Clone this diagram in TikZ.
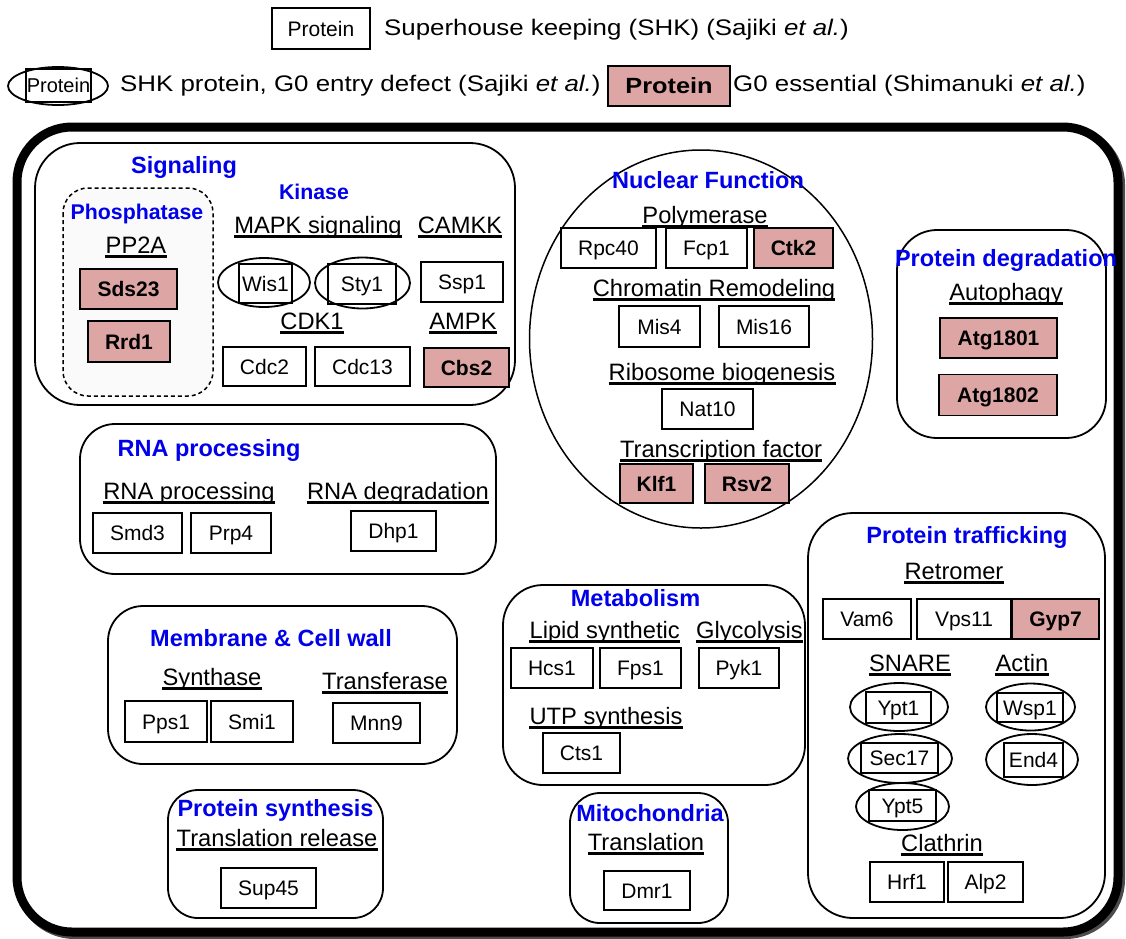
\documentclass[tikz,border=0pt]{standalone}
\usepackage{fontspec}
\setmainfont{Liberation Sans}
\newfontfamily\legfont[FakeStretch=1.15]{Liberation Sans}
\usetikzlibrary{shapes.geometric}
\definecolor{gzero}{RGB}{222,165,165}
\definecolor{ttlblue}{RGB}{0,0,235}
\begin{document}
\begin{tikzpicture}[x=1pt,y=-1pt,
  pbox/.style={draw, line width=1.8pt, inner sep=0pt, font=\fontsize{21}{25}\selectfont, text height=15pt, text depth=0pt},
  gbox/.style={pbox, fill=gzero, font=\bfseries\fontsize{21}{25}\selectfont},
  oval/.style={draw, ellipse, line width=1.8pt, inner sep=0pt},
  ttl/.style={inner sep=0pt, text=ttlblue, font=\bfseries\fontsize{23.5}{28}\selectfont, text height=17pt, text depth=0pt},
  ttls/.style={ttl, font=\bfseries\fontsize{21.3}{25}\selectfont, text height=15.3pt},
  sub/.style={inner sep=0pt, font=\fontsize{23.7}{28}\selectfont, text height=17pt, text depth=0pt,
     append after command={([yshift=-3pt]\tikzlastnode.south west) edge[line width=2.6pt] ([yshift=-3pt]\tikzlastnode.south east)}},
  grp/.style={draw, line width=1.8pt},
  legt/.style={inner sep=0pt, anchor=west, font=\legfont\fontsize{22.5}{27}\selectfont, text height=16pt, text depth=0pt},
]
\useasboundingbox (0,0) rectangle (1126,938);

% ---------- legend ----------
\node[pbox, minimum width=98, minimum height=41] (lg1) at (321,28.5) {Protein};
\node[legt] (lt1) at (384,27.3) {Superhouse keeping (SHK) (Sajiki \textit{et al.})};
\node[oval, minimum width=100, minimum height=38] (lg2o) at (58,86) {};
\node[pbox, minimum width=65, minimum height=33, font=\fontsize{20}{24}\selectfont, text height=14.3pt] (lg2) at (58.5,85.5) {Protein};
\node[legt] (lt2) at (120,83) {SHK protein, G0 entry defect (Sajiki \textit{et al.})};
\node[gbox, minimum width=122, minimum height=40, font=\legfont\bfseries\fontsize{22}{26}\selectfont] (lg3) at (669,86) {Protein};
\node[legt] (lt3) at (733,83) {G0 essential (Shimanuki \textit{et al.})};

% ---------- outer frame ----------
\draw[line width=9pt, black!70, rounded corners=55] (19.5,129.5) rectangle (1120.5,934.5);
\draw[line width=9pt, fill=white, rounded corners=55] (17,127) rectangle (1118,932);

% ---------- group frames ----------
\draw[grp, rounded corners=45] (35,143) rectangle (515,405);
\draw[line width=1.5pt, dash pattern=on 4pt off 3pt, fill=black!2, rounded corners=25] (63,188) rectangle (213,396);
\draw[line width=1.5pt] (701,339) ellipse [x radius=171.5, y radius=189];
\draw[grp, rounded corners=40] (897,230) rectangle (1106,438);
\draw[grp, rounded corners=35] (80,424) rectangle (496,574);
\draw[grp, rounded corners=35] (108,606) rectangle (457,764);
\draw[grp, rounded corners=40] (503,585) rectangle (805,785);
\draw[grp, rounded corners=30] (168,790) rectangle (383,918);
\draw[grp, rounded corners=30] (570,793) rectangle (728,923);
\draw[grp, rounded corners=45] (808,513) rectangle (1105,918);

% ---------- Signaling ----------
\node[ttl] (tsig) at (184,165) {Signaling};
\node[ttls] (tphos) at (137,212) {Phosphatase};
\node[sub] (spp2a) at (136,245) {PP2A};
\node[gbox, minimum width=97, minimum height=40] (sds23) at (128.5,289) {Sds23};
\node[gbox, minimum width=82, minimum height=41] (rrd1) at (129,341.5) {Rrd1};
\node[ttls] (tkin) at (314,192) {Kinase};
\node[sub] (smapk) at (318,225) {MAPK signaling};
\node[sub] (scamkk) at (460,225) {CAMKK};
\node[oval, minimum width=92, minimum height=49] (wis1o) at (264,282.5) {};
\node[pbox, minimum width=53, minimum height=39] (wis1) at (265.5,283.5) {Wis1};
\node[oval, minimum width=95, minimum height=51] (sty1o) at (362.5,283) {};
\node[pbox, minimum width=68, minimum height=40] (sty1) at (362,284) {Sty1};
\node[pbox, minimum width=82, minimum height=40] (ssp1) at (462,282) {Ssp1};
\node[sub] (scdk1) at (312,321) {CDK1};
\node[sub] (sampk) at (463,321) {AMPK};
\node[pbox, minimum width=83, minimum height=39] (cdc2) at (264.5,366.5) {Cdc2};
\node[pbox, minimum width=95, minimum height=39] (cdc13) at (362.5,366.5) {Cdc13};
\node[gbox, minimum width=85, minimum height=39] (cbs2) at (466.5,367.5) {Cbs2};

% ---------- Nuclear Function ----------
\node[ttl] (tnuc) at (708,180) {Nuclear Function};
\node[sub] (spol) at (705,215) {Polymerase};
\node[pbox, minimum width=95, minimum height=40] (rpc40) at (608.5,248) {Rpc40};
\node[pbox, minimum width=81, minimum height=40] (fcp1) at (706.5,248) {Fcp1};
\node[gbox, minimum width=79, minimum height=40] (ctk2) at (793.5,248) {Ctk2};
\node[sub] (schr) at (714,288) {Chromatin Remodeling};
\node[pbox, minimum width=81, minimum height=41] (mis4) at (659.5,326.5) {Mis4};
\node[pbox, minimum width=90, minimum height=41] (mis16) at (764,326.5) {Mis16};
\node[sub] (srib) at (722,372) {Ribosome biogenesis};
\node[pbox, minimum width=91, minimum height=40] (nat10) at (707.5,409) {Nat10};
\node[sub] (stf) at (721,449) {Transcription factor};
\node[gbox, minimum width=73, minimum height=39] (klf1) at (656.5,483.5) {Klf1};
\node[gbox, minimum width=84, minimum height=39] (rsv2) at (747,483.5) {Rsv2};

% ---------- Protein degradation ----------
\node[ttl] (tpd) at (1006,258) {Protein degradation};
\node[sub] (sauto) at (1006,292) {Autophagy};
\node[gbox, minimum width=117, minimum height=40] (atga) at (998.5,338) {Atg1801};
\node[gbox, minimum width=118, minimum height=41] (atgb) at (998,395) {Atg1802};

% ---------- RNA processing ----------
\node[ttl] (trna) at (209,448) {RNA processing};
\node[sub] (srnap) at (189,491) {RNA processing};
\node[sub] (srnad) at (398,491) {RNA degradation};
\node[pbox, minimum width=89, minimum height=40] (smd3) at (137.5,533) {Smd3};
\node[pbox, minimum width=80, minimum height=40] (prp4) at (231,533) {Prp4};
\node[pbox, minimum width=85, minimum height=40] (dhp1) at (393.5,531) {Dhp1};

% ---------- Membrane & Cell wall ----------
\node[ttl] (tmem) at (271,638) {Membrane \& Cell wall};
\node[sub] (ssyn) at (212,677) {Synthase};
\node[sub] (stra) at (385,681) {Transferase};
\node[pbox, minimum width=82, minimum height=41] (pps1) at (166,721.5) {Pps1};
\node[pbox, minimum width=82, minimum height=41] (smi1) at (252,721.5) {Smi1};
\node[pbox, minimum width=87, minimum height=40] (mnn9) at (376.5,723) {Mnn9};

% ---------- Metabolism ----------
\node[ttl] (tmet) at (635.5,598) {Metabolism};
\node[sub] (slip) at (604.7,630) {Lipid synthetic};
\node[sub] (sgly) at (749.5,630) {Glycolysis};
\node[pbox, minimum width=82, minimum height=40] (hcs1) at (552,668) {Hcs1};
\node[pbox, minimum width=81, minimum height=40] (fps1) at (640.5,668) {Fps1};
\node[pbox, minimum width=80, minimum height=40] (pyk1) at (739,668) {Pyk1};
\node[sub] (sutp) at (606,716) {UTP synthesis};
\node[pbox, minimum width=77, minimum height=40] (cts1) at (581.5,753) {Cts1};

% ---------- Protein synthesis ----------
\node[ttl] (tps) at (275.5,808) {Protein synthesis};
\node[sub] (strr) at (277,838) {Translation release};
\node[pbox, minimum width=95, minimum height=40] (sup45) at (268.5,888) {Sup45};

% ---------- Mitochondria ----------
\node[ttl] (tmito) at (650,813) {Mitochondria};
\node[sub] (strl) at (646,842) {Translation};
\node[pbox, minimum width=86, minimum height=39] (dmr1) at (647,890.5) {Dmr1};

% ---------- Protein trafficking ----------
\node[ttl] (tpt) at (967,535) {Protein trafficking};
\node[sub] (sret) at (954,571) {Retromer};
\node[pbox, minimum width=88, minimum height=40] (vam6) at (867,619) {Vam6};
\node[pbox, minimum width=94, minimum height=40] (vps11) at (964,619) {Vps11};
\node[gbox, minimum width=87, minimum height=40] (gyp7) at (1055.5,619) {Gyp7};
\node[sub] (ssnare) at (910,663) {SNARE};
\node[sub] (sactin) at (1022,663) {Actin};
\node[oval, minimum width=98, minimum height=48] (ypt1o) at (899,707) {};
\node[pbox, minimum width=65, minimum height=31] (ypt1) at (898.5,707.5) {Ypt1};
\node[oval, minimum width=89, minimum height=47] (wsp1o) at (1030.5,707) {};
\node[pbox, minimum width=66, minimum height=29] (wsp1) at (1030,707.5) {Wsp1};
\node[oval, minimum width=104, minimum height=49] (sec17o) at (900,758.5) {};
\node[pbox, minimum width=77, minimum height=30] (sec17) at (899.5,758) {Sec17};
\node[oval, minimum width=92, minimum height=51] (end4o) at (1032,759.5) {};
\node[pbox, minimum width=59, minimum height=34] (end4) at (1033.5,760) {End4};
\node[oval, minimum width=93, minimum height=47] (ypt5o) at (902.5,806.5) {};
\node[pbox, minimum width=67, minimum height=31] (ypt5) at (902.5,805.5) {Ypt5};
\node[sub] (scla) at (942,843) {Clathrin};
\node[pbox, minimum width=74, minimum height=40] (hrf1) at (907,882) {Hrf1};
\node[pbox, minimum width=75, minimum height=40] (alp2) at (985.5,882) {Alp2};
\end{tikzpicture}
\end{document}
